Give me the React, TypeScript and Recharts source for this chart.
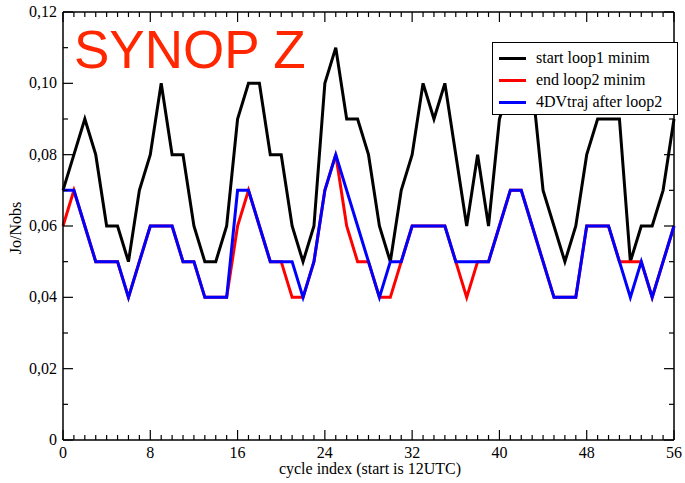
import { Legend, Line, LineChart, ReferenceLine, XAxis, YAxis } from "recharts";

// cycle index 0..56
const cycles = Array.from({ length: 57 }, (_, i) => i);

const startLoop1 = [
  0.07, 0.08, 0.09, 0.08, 0.06, 0.06, 0.05, 0.07, 0.08, 0.1, 0.08, 0.08, 0.06, 0.05,
  0.05, 0.06, 0.09, 0.1, 0.1, 0.08, 0.08, 0.06, 0.05, 0.06, 0.1, 0.11, 0.09, 0.09,
  0.08, 0.06, 0.05, 0.07, 0.08, 0.1, 0.09, 0.1, 0.08, 0.06, 0.08, 0.06, 0.09, 0.1,
  0.1, 0.1, 0.07, 0.06, 0.05, 0.06, 0.08, 0.09, 0.09, 0.09, 0.05, 0.06, 0.06, 0.07, 0.09,
];

const endLoop2 = [
  0.06, 0.07, 0.06, 0.05, 0.05, 0.05, 0.04, 0.05, 0.06, 0.06, 0.06, 0.05, 0.05, 0.04,
  0.04, 0.04, 0.06, 0.07, 0.06, 0.05, 0.05, 0.04, 0.04, 0.05, 0.07, 0.08, 0.06, 0.05,
  0.05, 0.04, 0.04, 0.05, 0.06, 0.06, 0.06, 0.06, 0.05, 0.04, 0.05, 0.05, 0.06, 0.07,
  0.07, 0.06, 0.05, 0.04, 0.04, 0.04, 0.06, 0.06, 0.06, 0.05, 0.05, 0.05, 0.04, 0.05, 0.06,
];

const traj4DV = [
  0.07, 0.07, 0.06, 0.05, 0.05, 0.05, 0.04, 0.05, 0.06, 0.06, 0.06, 0.05, 0.05, 0.04,
  0.04, 0.04, 0.07, 0.07, 0.06, 0.05, 0.05, 0.05, 0.04, 0.05, 0.07, 0.08, 0.07, 0.06,
  0.05, 0.04, 0.05, 0.05, 0.06, 0.06, 0.06, 0.06, 0.05, 0.05, 0.05, 0.05, 0.06, 0.07,
  0.07, 0.06, 0.05, 0.04, 0.04, 0.04, 0.06, 0.06, 0.06, 0.05, 0.04, 0.05, 0.04, 0.05, 0.06,
];

const seriesNames = ["start loop1 minim", "end loop2 minim", "4DVtraj after loop2"];

const xTicks = cycles;
const yTicks = [0, 0.01, 0.02, 0.03, 0.04, 0.05, 0.06, 0.07, 0.08, 0.09, 0.1, 0.11, 0.12];

const data = cycles.map((c, i) => ({
  cycle: c,
  start: startLoop1[i],
  end: endLoop2[i],
  traj: traj4DV[i],
}));

const W = 685;
const H = 483;
const LEFT = 63;
const RIGHT = 674;
const TOP = 12;
const BOTTOM = 440;
const SERIF = "Liberation Serif, serif";

function XTick(props: any) {
  const { x, y, payload } = props;
  const v = payload.value as number;
  const major = v % 8 === 0;
  const len = major ? 10 : 5;
  return (
    <g>
      <line x1={x} y1={y} x2={x} y2={y - len} stroke="#000" strokeWidth={1.2} />
      <line x1={x} y1={TOP} x2={x} y2={TOP + len} stroke="#000" strokeWidth={1.2} />
      {major && (
        <text x={x} y={y + 18} textAnchor="middle" style={{ fontFamily: SERIF, fontSize: 16 }} fill="#000">
          {v}
        </text>
      )}
    </g>
  );
}

function YTick(props: any) {
  const { x, y, payload } = props;
  const n = Math.round(payload.value * 100);
  const major = n % 2 === 0;
  const len = major ? 10 : 5;
  const label = n === 0 ? "0" : "0," + String(n).padStart(2, "0");
  return (
    <g>
      <line x1={x} y1={y} x2={x + len} y2={y} stroke="#000" strokeWidth={1.2} />
      <line x1={RIGHT} y1={y} x2={RIGHT - len} y2={y} stroke="#000" strokeWidth={1.2} />
      {major && (
        <text x={x - 6} y={y + 5} textAnchor="end" style={{ fontFamily: SERIF, fontSize: 16 }} fill="#000">
          {label}
        </text>
      )}
    </g>
  );
}

function LegendBox({ payload }: any) {
  const items = [...(payload || [])].sort(
    (a: any, b: any) => seriesNames.indexOf(a.value) - seriesNames.indexOf(b.value)
  );
  return (
    <div
      style={{
        width: 186,
        height: 73,
        border: "1px solid #000",
        background: "#fff",
        boxSizing: "border-box",
        position: "relative",
      }}
    >
      {items.map((p: any, i: number) => (
        <div
          key={p.value}
          style={{ position: "absolute", left: 6, top: 4 + i * 22, height: 22, display: "flex", alignItems: "center" }}
        >
          <div style={{ width: 27, height: 3, background: p.color }} />
          <span style={{ marginLeft: 10, fontFamily: SERIF, fontSize: 16, color: "#000", whiteSpace: "nowrap" }}>
            {p.value}
          </span>
        </div>
      ))}
    </div>
  );
}

export default function App() {
  return (
    <div style={{ position: "absolute", left: 0, top: 0, width: W, height: H, background: "#fff" }}>
      <LineChart width={W} height={H} data={data} margin={{ top: TOP, right: W - RIGHT, left: 0, bottom: 0 }}>
        <XAxis
          dataKey="cycle"
          type="number"
          domain={[0, 56]}
          ticks={xTicks}
          interval={0}
          tickSize={0}
          tickMargin={0}
          height={H - BOTTOM}
          axisLine={{ stroke: "#000", strokeWidth: 1.5 }}
          tickLine={false}
          tick={<XTick />}
          allowDecimals={false}
        />
        <YAxis
          type="number"
          domain={[0, 0.12]}
          ticks={yTicks}
          interval={0}
          tickSize={0}
          tickMargin={0}
          width={LEFT}
          axisLine={{ stroke: "#000", strokeWidth: 1.5 }}
          tickLine={false}
          tick={<YTick />}
        />
        <ReferenceLine y={0.12} stroke="#000" strokeWidth={1.5} />
        <ReferenceLine x={56} stroke="#000" strokeWidth={1.5} />
        <Line dataKey="start" name={seriesNames[0]} stroke="#000000" strokeWidth={3} dot={false} isAnimationActive={false} />
        <Line dataKey="end" name={seriesNames[1]} stroke="#ff0000" strokeWidth={3} dot={false} isAnimationActive={false} />
        <Line dataKey="traj" name={seriesNames[2]} stroke="#0000ff" strokeWidth={3} dot={false} isAnimationActive={false} />
        <Legend
          layout="horizontal"
          verticalAlign="middle"
          align="center"
          content={<LegendBox />}
          wrapperStyle={{ left: 492, top: 42, width: "auto", height: "auto" }}
        />
      </LineChart>
      <div
        style={{
          position: "absolute",
          left: 16,
          top: 228,
          transform: "translate(-50%, -50%) rotate(-90deg)",
          fontFamily: SERIF,
          fontSize: 16,
          whiteSpace: "nowrap",
        }}
      >
        Jo/Nobs
      </div>
      <div
        style={{
          position: "absolute",
          left: 370,
          top: 460,
          transform: "translateX(-50%)",
          fontFamily: SERIF,
          fontSize: 16,
          whiteSpace: "nowrap",
          lineHeight: "18px",
        }}
      >
        cycle index (start is 12UTC)
      </div>
      <div
        style={{
          position: "absolute",
          left: 74,
          top: 23,
          fontFamily: "Liberation Sans, Arial, sans-serif",
          fontSize: 53,
          lineHeight: 1,
          color: "#ff2600",
          whiteSpace: "nowrap",
        }}
      >
        SYNOP Z
      </div>
    </div>
  );
}
